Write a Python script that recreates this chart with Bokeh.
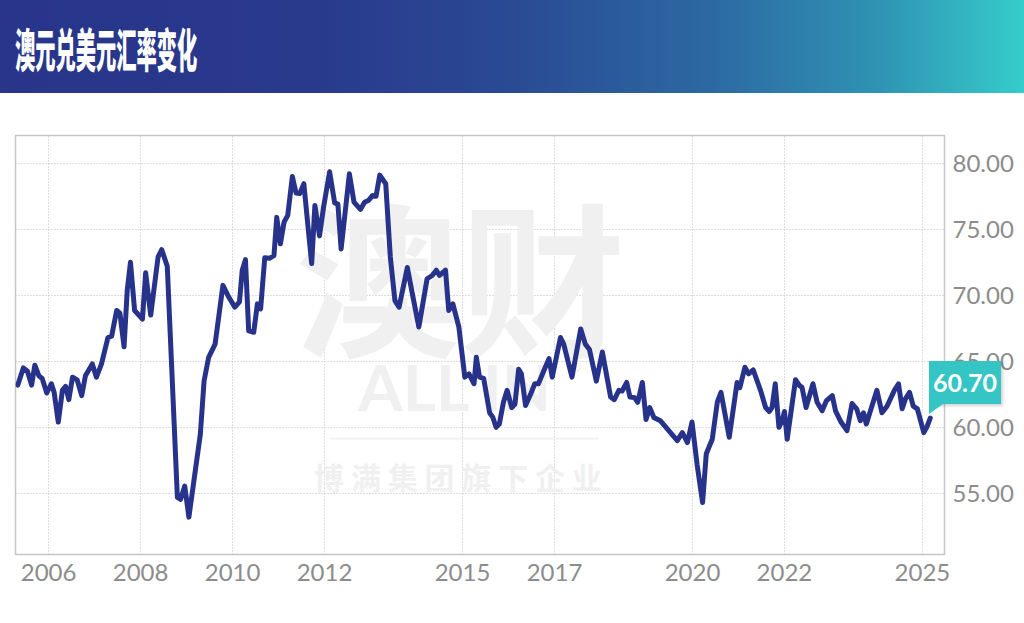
from bokeh.plotting import figure
from bokeh.models import (Range1d, FixedTicker, PrintfTickFormatter, Label,
                          Div, BoxAnnotation)
from bokeh.layouts import column
from bokeh.embed import file_html
from bokeh.resources import INLINE

# ---------------- data ----------------
title = "澳元兑美元汇率变化"
x_tick_years = [2006, 2008, 2010, 2012, 2015, 2017, 2020, 2022, 2025]
y_ticks = [55, 60, 65, 70, 75, 80]

years = [
    2005.33, 2005.45, 2005.54, 2005.63, 2005.70, 2005.79, 2005.86, 2005.96,
    2006.06, 2006.12, 2006.21, 2006.30, 2006.37, 2006.44, 2006.52, 2006.62,
    2006.72, 2006.80, 2006.95, 2007.04, 2007.15, 2007.29, 2007.37, 2007.48,
    2007.55, 2007.64, 2007.71, 2007.78, 2007.87, 2008.04, 2008.11, 2008.22,
    2008.38, 2008.46, 2008.58, 2008.80, 2008.87, 2008.96, 2009.05, 2009.30,
    2009.38, 2009.48, 2009.62, 2009.79, 2009.92, 2010.05, 2010.15, 2010.21,
    2010.28, 2010.35, 2010.46, 2010.54, 2010.61, 2010.70, 2010.80, 2010.90,
    2010.96, 2011.04, 2011.12, 2011.20, 2011.30, 2011.38, 2011.46, 2011.55,
    2011.64, 2011.72, 2011.79, 2011.89, 2011.98, 2012.11, 2012.22, 2012.29,
    2012.36, 2012.54, 2012.64, 2012.78, 2012.87, 2012.96, 2013.04, 2013.12,
    2013.20, 2013.33, 2013.43, 2013.53, 2013.62, 2013.80, 2013.91, 2014.05,
    2014.23, 2014.34, 2014.43, 2014.50, 2014.63, 2014.70, 2014.79, 2014.92,
    2015.05, 2015.14, 2015.25, 2015.30, 2015.37, 2015.46, 2015.59, 2015.66,
    2015.73, 2015.80, 2015.89, 2015.97, 2016.07, 2016.14, 2016.22, 2016.28,
    2016.37, 2016.48, 2016.57, 2016.65, 2016.77, 2016.88, 2016.95, 2017.13,
    2017.20, 2017.38, 2017.57, 2017.67, 2017.76, 2017.91, 2018.04, 2018.22,
    2018.30, 2018.40, 2018.47, 2018.57, 2018.64, 2018.74, 2018.81, 2018.91,
    2018.99, 2019.07, 2019.16, 2019.30, 2019.41, 2019.67, 2019.78, 2019.89,
    2019.99, 2020.10, 2020.22, 2020.30, 2020.43, 2020.54, 2020.62, 2020.80,
    2020.97, 2021.03, 2021.14, 2021.22, 2021.32, 2021.48, 2021.59, 2021.67,
    2021.73, 2021.80, 2021.88, 2021.95, 2022.00, 2022.06, 2022.24, 2022.33,
    2022.38, 2022.47, 2022.62, 2022.71, 2022.82, 2022.91, 2023.04, 2023.11,
    2023.23, 2023.36, 2023.47, 2023.57, 2023.65, 2023.72, 2023.78, 2023.87,
    2024.01, 2024.12, 2024.23, 2024.39, 2024.48, 2024.56, 2024.63, 2024.72,
    2024.80, 2024.89, 2025.03, 2025.10, 2025.17,
]
rates = [
    63.2, 64.5, 64.25, 63.2, 64.7, 63.9, 63.7, 62.6,
    63.3, 62.65, 60.4, 62.8, 63.1, 62.1, 63.8, 63.6,
    62.4, 63.9, 64.8, 63.8, 64.8, 66.8, 66.9, 68.85,
    68.65, 66.1, 70.4, 72.5, 68.85, 68.2, 71.7, 68.5,
    72.9, 73.45, 72.2, 54.7, 54.55, 55.55, 53.2, 59.5,
    63.5, 65.3, 66.3, 70.75, 69.85, 69.1, 69.5, 71.9,
    72.7, 67.3, 67.2, 69.35, 68.97, 72.85, 72.8, 73.0,
    75.9, 73.9, 75.55, 76.05, 79.0, 77.75, 77.7, 78.45,
    75.2, 72.4, 76.8, 74.5, 76.7, 79.35, 77.0, 76.9,
    73.5, 79.2, 77.05, 76.5, 77.05, 77.2, 77.55, 77.5,
    79.1, 78.45, 72.9, 69.6, 69.1, 72.1, 70.1, 67.6,
    71.25, 71.5, 71.9, 71.5, 71.9, 68.85, 69.35, 67.6,
    63.8, 64.05, 63.3, 65.3, 63.8, 63.7, 61.1, 60.75,
    60.0, 60.25, 61.9, 62.8, 61.5, 61.75, 64.4, 64.05,
    61.65, 62.5, 63.3, 63.3, 64.3, 65.2, 63.8, 66.8,
    66.3, 63.8, 67.45, 66.3, 65.9, 63.5, 65.7, 62.3,
    62.1, 62.8, 62.75, 63.4, 62.3, 62.25, 61.9, 63.4,
    60.6, 61.5, 60.75, 60.5, 60.05, 59.0, 59.6, 58.85,
    60.4, 57.2, 54.3, 58.0, 59.1, 61.9, 62.65, 59.25,
    63.4, 63.0, 64.55, 64.05, 64.35, 62.8, 61.5, 61.2,
    61.5, 63.3, 60.0, 60.5, 61.2, 59.1, 63.6, 63.15,
    63.05, 61.5, 63.3, 61.9, 61.25, 62.0, 62.4, 61.25,
    60.4, 59.75, 61.8, 61.4, 60.5, 61.1, 60.25, 61.25,
    62.8, 61.1, 61.6, 62.8, 63.3, 61.4, 62.15, 62.65,
    61.6, 61.4, 59.6, 60.05, 60.70,
]
last_label = "60.70"

watermark_big = "澳财"
watermark_brand = "ALL IN"
watermark_sub = "博 满 集 团 旗 下 企 业"

# ---------------- styling ----------------
NAVY = "#27338b"
TEAL = "#34c5c4"
GRID = "#bdbdbd"
LABEL = "#8c8c8c"
WM = "#f0f0f0"

HEADER_H = 93
FIG_W, FIG_H = 1024, 522
BORDER_L, BORDER_R, BORDER_T, BORDER_B = 15, 80, 42, 61

header = Div(
    text=(
        '<div style="height:93px;display:flex;align-items:center;padding-left:15px;">'
        '<span style="display:inline-block;font-family:\'Noto Sans CJK SC\';'
        'font-weight:900;font-size:46px;color:#ffffff;transform:scaleX(0.44);'
        'transform-origin:left center;white-space:nowrap;line-height:1;">'
        + title + '</span></div>'
    ),
    width=FIG_W, height=HEADER_H,
    styles={"background": "linear-gradient(90deg, #28358a 0%, #29398c 30%, "
                          "#2a4a94 50%, #2c6aa3 70%, #2f94b4 86%, #35cccb 100%)",
            "margin": "0", "padding": "0"},
    margin=0,
)

x0, x1 = 2005.28, 2025.48
y0, y1 = 50.37, 82.1

p = figure(width=FIG_W, height=FIG_H, output_backend="svg", toolbar_location=None,
           x_range=Range1d(x0, x1), y_range=Range1d(y0, y1),
           y_axis_location="right",
           min_border_left=BORDER_L, min_border_right=BORDER_R,
           min_border_top=BORDER_T, min_border_bottom=BORDER_B)
p.margin = 0
p.background_fill_color = "white"
p.border_fill_color = "white"
p.outline_line_color = "#c6c6c6"
p.outline_line_width = 1.5

# grid
p.xaxis.ticker = FixedTicker(ticks=x_tick_years)
p.yaxis.ticker = FixedTicker(ticks=y_ticks)
p.xgrid.ticker = FixedTicker(ticks=x_tick_years)
p.ygrid.ticker = FixedTicker(ticks=y_ticks)
for g in (p.xgrid, p.ygrid):
    g.grid_line_color = GRID
    g.grid_line_dash = "1 2"
    g.grid_line_width = 1

p.xaxis.formatter = PrintfTickFormatter(format="%d")
p.yaxis.formatter = PrintfTickFormatter(format="%.2f")
for ax in (p.xaxis, p.yaxis):
    ax.axis_line_color = None
    ax.major_tick_line_color = None
    ax.minor_tick_line_color = None
    ax.major_tick_out = 0
    ax.major_tick_in = 0
    ax.major_label_text_font = "Lato"
    ax.major_label_text_font_size = "24px"
    ax.major_label_text_color = LABEL
p.xaxis.major_label_standoff = 9
p.yaxis.major_label_standoff = 8

# watermark
cx = 2014.95
p.add_layout(Label(x=cx, y=71.7, text=watermark_big, text_align="center",
                   text_baseline="middle", text_font="Noto Sans CJK SC",
                   text_font_style="bold", text_font_size="165px",
                   text_color=WM, level="underlay"))
p.add_layout(Label(x=cx - 0.1, y=63.1, text=watermark_brand, text_align="center",
                   text_baseline="middle", text_font="Lato",
                   text_font_style="bold", text_font_size="64px",
                   text_color=WM, level="underlay"))
p.add_layout(Label(x=2017.45, y=64.6, text="®", text_align="center",
                   text_baseline="middle", text_font="Lato",
                   text_font_size="14px", text_color="#e6e6e6", level="underlay"))
p.add_layout(BoxAnnotation(left=2012.13, right=2017.96, bottom=59.08, top=59.22,
                           fill_color=WM, fill_alpha=1, line_color=None,
                           level="underlay"))
p.add_layout(Label(x=cx - 0.05, y=56.35, text=watermark_sub, text_align="center",
                   text_baseline="middle", text_font="Noto Sans CJK SC",
                   text_font_style="bold", text_font_size="30px",
                   text_color=WM, level="underlay"))

# line
p.line(years, rates, line_color=NAVY, line_width=5, line_join="round",
       line_cap="round")

# last value tag: placed from the last data point through the axis scales
lx, ly = years[-1], rates[-1]
frame_w = FIG_W - BORDER_L - BORDER_R
frame_h = FIG_H - BORDER_T - BORDER_B
pt_x = BORDER_L + (lx - x0) / (x1 - x0) * frame_w
pt_y = HEADER_H + BORDER_T + (y1 - ly) / (y1 - y0) * frame_h
tag_left = round(pt_x - 1)
tag_top = round(pt_y - 57)

tag = Div(
    text=(
        '<div style="position:relative;width:74px;height:56px;">'
        '<div style="position:absolute;left:0;top:0;width:72px;height:43px;'
        'background:' + TEAL + ';color:#ffffff;font-family:Lato;font-weight:bold;'
        'font-size:25px;line-height:43px;text-align:center;'
        'box-shadow:2px 2px 3px rgba(0,0,0,0.18);">' + last_label + '</div>'
        '<div style="position:absolute;left:0;top:43px;width:0;height:0;'
        'border-top:10px solid ' + TEAL + ';border-right:14px solid transparent;"></div>'
        '</div>'
    ),
    width=74, height=56, margin=0,
    styles={"position": "absolute", "left": f"{tag_left}px", "top": f"{tag_top}px",
            "z-index": "10"},
)

layout = column(header, p, tag, margin=0, spacing=0,
                styles={"position": "relative"})

open("out.html", "w").write(file_html(layout, INLINE))
